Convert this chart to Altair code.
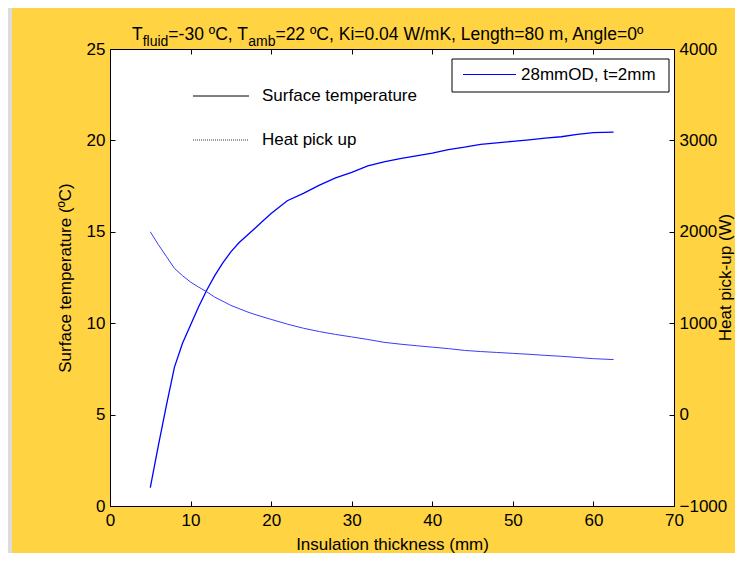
import altair as alt
import pandas as pd

# ---------------- data ----------------
thickness = [5, 6, 7, 8, 9, 10, 11, 12, 13, 14, 15, 16, 17, 18, 19, 20, 22, 24, 26, 28,
             30, 32, 34, 36, 38, 40, 42, 44, 46, 48, 50, 52, 54, 56, 58, 60, 62.5]
surface_temp = [1.0, 3.3, 5.5, 7.6, 8.9, 9.9, 10.9, 11.8, 12.6, 13.3, 13.9, 14.4, 14.8, 15.2,
                15.6, 16.0, 16.7, 17.1, 17.55, 17.95, 18.25, 18.6, 18.83, 19.0, 19.15, 19.3,
                19.5, 19.63, 19.78, 19.87, 19.95, 20.03, 20.12, 20.2, 20.33, 20.43, 20.45]
heat_pickup = [2000, 1860, 1730, 1600, 1520, 1450, 1395, 1344, 1285, 1240, 1195, 1160, 1125,
               1095, 1068, 1042, 990, 945, 908, 877, 850, 822, 791, 771, 754, 738, 722, 702,
               690, 680, 670, 660, 648, 638, 625, 612, 602]

x_ticks = [0, 10, 20, 30, 40, 50, 60, 70]
left_ticks = [0, 5, 10, 15, 20, 25]
right_ticks = [-1000, 0, 1000, 2000, 3000, 4000]

title_parts = [("T", "main"), ("fluid", "sub"), ("=-30 ºC, T", "main"), ("amb", "sub"),
               ("=22 ºC, Ki=0.04 W/mK,  Length=80 m, Angle=0º", "main")]
legend_box_label = "28mmOD, t=2mm"
legend_labels = ["Surface temperature", "Heat pick up"]

df = pd.DataFrame({"thickness": thickness, "surface": surface_temp, "heat": heat_pickup})
one = pd.DataFrame({"k": [0]})

FONT = "Liberation Sans"
BG = "#FFD342"
BLUE = "#0000FF"

xscale = alt.Scale(domain=[0, 70], nice=False, zero=False)

common_axis = dict(grid=False, domain=False, tickSize=5, offset=-5, tickColor="black",
                   labelColor="black", labelFont=FONT, labelFontSize=17, labelFlush=False,
                   titleFont=FONT, titleFontSize=17, titleFontWeight="normal",
                   titleColor="black")

temp_line = alt.Chart(df).mark_line(color=BLUE, strokeWidth=1.3).encode(
    x=alt.X("thickness:Q", scale=xscale,
            axis=alt.Axis(orient="bottom", values=x_ticks, labelPadding=6,
                          title="Insulation thickness (mm)", titlePadding=8, **common_axis)),
    y=alt.Y("surface:Q", scale=alt.Scale(domain=[0, 25], nice=False, zero=False),
            axis=alt.Axis(orient="left", values=left_ticks, labelPadding=5,
                          title="Surface temperature (ºC)", titlePadding=12, **common_axis)),
)

heat_line = alt.Chart(df).mark_line(color="#3A3AFF", strokeWidth=1).encode(
    x=alt.X("thickness:Q", scale=xscale,
            axis=alt.Axis(orient="top", values=x_ticks, labels=False, title="", **common_axis)),
    y=alt.Y("heat:Q", scale=alt.Scale(domain=[-1000, 4000], nice=False, zero=False),
            axis=alt.Axis(orient="right", values=right_ticks, labelPadding=5, title="",
                          format="d", **common_axis)),
)


def txt(s, x, y, size=17, align="left", baseline="middle", angle=None):
    kw = dict(text=s, align=align, baseline=baseline, fontSize=size, font=FONT, color="black")
    if angle is not None:
        kw["angle"] = angle
    return alt.Chart(one).mark_text(**kw).encode(x=alt.value(x), y=alt.value(y))


def rule(x1, x2, y, color="black", width=1, dash=None):
    kw = dict(color=color, strokeWidth=width)
    if dash is not None:
        kw["strokeDash"] = dash
    return alt.Chart(one).mark_rule(**kw).encode(x=alt.value(x1), x2=alt.value(x2), y=alt.value(y))


# Arial / Liberation Sans advance widths (1/1000 em) for the title text
W = {'T': 611, 'f': 278, 'l': 222, 'u': 556, 'i': 222, 'd': 556, '=': 584, '-': 333, '3': 556,
     '0': 556, ' ': 278, 'º': 365, 'C': 722, ',': 278, 'a': 556, 'm': 833, 'b': 556, '2': 556,
     'K': 667, '.': 278, '4': 556, 'W': 944, '/': 278, 'L': 556, 'e': 556, 'n': 556, 'g': 556,
     't': 278, 'h': 556, '8': 556, 'A': 667}
MAIN, SUB = 17.5, 14
title_layers = []
cx = 22
for s, kind in title_parts:
    size = MAIN if kind == "main" else SUB
    yb = -9 if kind == "main" else -3
    title_layers.append(txt(s, cx, yb, size=size, baseline="alphabetic"))
    cx += sum(W.get(c, 556) for c in s) / 1000 * size

legend_box = alt.Chart(one).mark_rect(fill="white", stroke="black", strokeWidth=1).encode(
    x=alt.value(342), x2=alt.value(559), y=alt.value(10), y2=alt.value(43))

gray_strip = alt.Chart(one).mark_rect(fill="#DCDCDC").encode(
    x=alt.value(-102), x2=alt.value(-98), y=alt.value(-41), y2=alt.value(504))

annotations = [
    gray_strip,
    legend_box,
    rule(353, 406, 25.5, color=BLUE, width=1),
    txt(legend_box_label, 411, 26),
    rule(83, 139, 47, color="black", width=1),
    txt(legend_labels[0], 152, 47),
    rule(83, 139, 91, color="black", width=0.8, dash=[1, 1]),
    txt(legend_labels[1], 152, 91),
    txt("Heat pick-up (W)", 616, 228.5, align="center", angle=270),
] + title_layers

chart = alt.layer(temp_line, heat_line, *annotations).resolve_scale(
    y="independent"
).resolve_axis(
    x="independent", y="independent"
).properties(
    width=564, height=457,
    padding={"left": 102, "top": 41, "right": 61, "bottom": 47},
    autosize=alt.AutoSizeParams(type="none"),
    background=BG,
).configure_view(stroke="black", strokeWidth=1, fill="white")

chart.save("out.html", embed_options={"renderer": "svg", "actions": False})
